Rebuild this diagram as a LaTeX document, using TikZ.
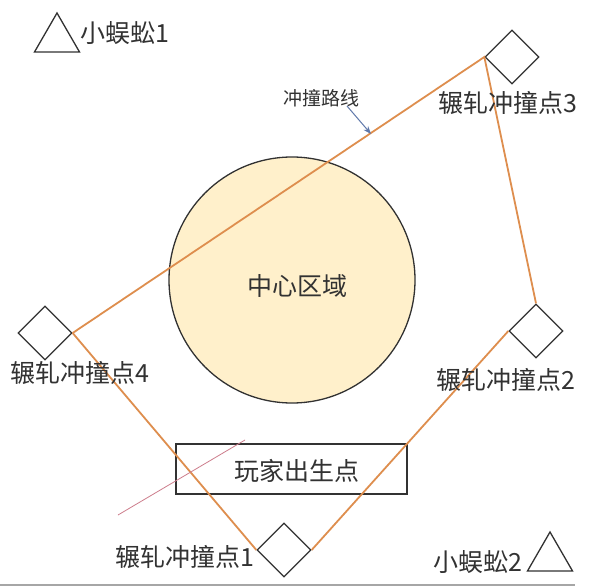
\documentclass[tikz,border=0pt]{standalone}
\usepackage{fontspec}
\newfontfamily\cjk{Noto Sans CJK SC}
\usetikzlibrary{shapes.geometric,arrows.meta}
\definecolor{route}{RGB}{222,142,78}
\definecolor{zone}{RGB}{255,240,203}
\definecolor{ink}{RGB}{50,50,50}
\definecolor{pointer}{RGB}{95,120,170}
\definecolor{pinkline}{RGB}{205,125,140}
\tikzset{
  crash/.style={diamond,draw=ink,line width=1.3pt,fill=white,minimum width=54pt,minimum height=54pt,inner sep=0pt},
  bug/.style={regular polygon,regular polygon sides=3,draw=ink,line width=1.3pt,minimum size=52pt,inner sep=0pt},
  lbl/.style={font=\cjk\fontsize{25}{28}\selectfont,text=ink,inner sep=0pt},
  path/.style={draw=route,line width=1.8pt},
}
\begin{document}
\begin{tikzpicture}[x=1pt,y=-1pt]
\useasboundingbox (0,0) rectangle (600,588);
\fill[white] (0,0) rectangle (600,588);
\draw[gray!70,line width=1.5pt] (0,585) -- (575,585);

% central zone
\node[circle,draw=ink,line width=1.3pt,fill=zone,minimum size=246pt,inner sep=0pt] (zone) at (292,280) {};
\node[lbl] (zonetext) at (297,286) {中心区域};

% spawn box
\node[rectangle,draw=ink,line width=1.3pt,minimum width=231pt,minimum height=50pt,inner sep=0pt] (spawn) at (291.5,469) {};
\node[lbl] (spawntext) at (297,471) {玩家出生点};

% crash points
\node[crash] (d1) at (284,550) {};
\node[crash] (d2) at (536,331) {};
\node[crash] (d3) at (512,57) {};
\node[crash] (d4) at (45,333) {};

% route
\draw[path] (d4.east) -- (d3.west) -- (d2.north);
\draw[path] (d2.west) -- (d1.east);
\draw[path] (d4.east) -- (d1.west);

% pink stray line
\draw[pinkline,line width=0.8pt] (118,515) -- (245,440);

% labels
\node[lbl] (l3) at (508,103) {辗轧冲撞点3};
\node[lbl] (l4) at (80,373) {辗轧冲撞点4};
\node[lbl] (l2) at (506,380) {辗轧冲撞点2};
\node[lbl] (l1) at (185,557) {辗轧冲撞点1};

% bugs
\node[bug] (t1) at (57,39) {};
\node[bug] (t2) at (550,558) {};
\node[lbl] (b1) at (125,33) {小蜈蚣1};
\node[lbl] (b2) at (478,562) {小蜈蚣2};

% route label with pointer
\node[lbl,font=\cjk\fontsize{19}{22}\selectfont] (routelbl) at (321,98) {冲撞路线};
\coordinate (pa) at (347,106);
\coordinate (pb) at (371,134);
\draw[pointer,line width=1pt,-{Stealth[length=8pt,width=6pt]}] (pa) -- (pb);
\end{tikzpicture}
\end{document}
